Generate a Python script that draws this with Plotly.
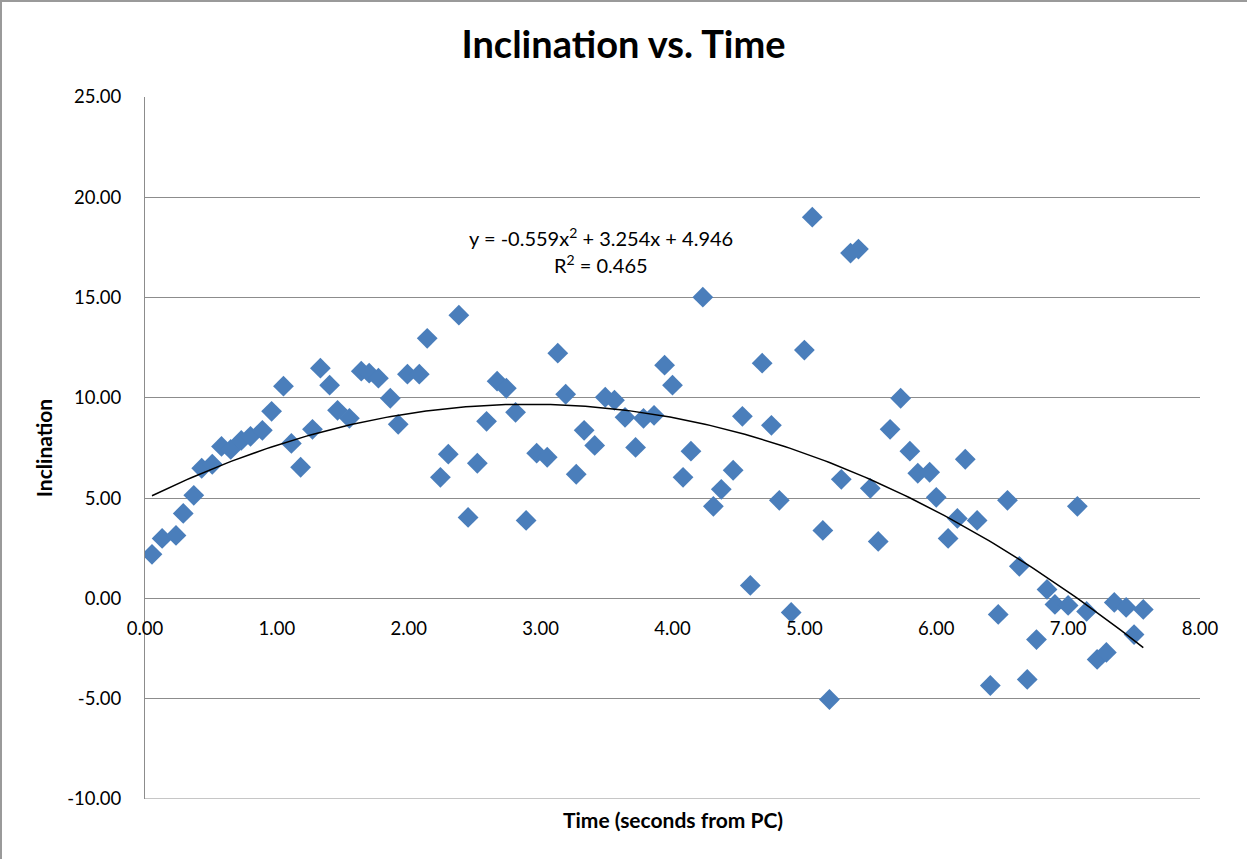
import numpy as np
import plotly.graph_objects as go

time_s = [0.053, 0.13, 0.235, 0.29, 0.37, 0.43, 0.51, 0.58, 0.65, 0.73,
          0.80, 0.89, 0.96, 1.05, 1.11, 1.18, 1.27, 1.33, 1.40, 1.46,
          1.55, 1.64, 1.70, 1.77, 1.86, 1.92, 1.99, 2.08, 2.14, 2.24,
          2.30, 2.38, 2.45, 2.52, 2.59, 2.67, 2.74, 2.81, 2.89, 2.97,
          3.05, 3.13, 3.19, 3.27, 3.33, 3.41, 3.49, 3.56, 3.64, 3.72,
          3.78, 3.86, 3.94, 4.00, 4.08, 4.14, 4.23, 4.31, 4.37, 4.46,
          4.53, 4.59, 4.68, 4.75, 4.81, 4.90, 5.00, 5.06, 5.14, 5.19,
          5.28, 5.35, 5.41, 5.50, 5.56, 5.65, 5.73, 5.80, 5.86, 5.95,
          6.00, 6.09, 6.16, 6.22, 6.31, 6.41, 6.47, 6.54, 6.63, 6.69,
          6.76, 6.84, 6.90, 7.00, 7.07, 7.14, 7.22, 7.29, 7.35, 7.44,
          7.50, 7.57]
inclination = [2.20, 2.99, 3.14, 4.24, 5.14, 6.49, 6.69, 7.58, 7.43, 7.88,
               8.08, 8.38, 9.33, 10.58, 7.73, 6.54, 8.43, 11.48, 10.63, 9.38,
               8.98, 11.33, 11.23, 10.98, 9.98, 8.68, 11.18, 11.18, 12.97, 6.04,
               7.19, 14.12, 4.04, 6.74, 8.83, 10.83, 10.48, 9.28, 3.89, 7.24,
               7.04, 12.23, 10.18, 6.19, 8.38, 7.63, 10.03, 9.88, 9.03, 7.53,
               8.98, 9.13, 11.63, 10.63, 6.04, 7.34, 15.02, 4.59, 5.44, 6.39,
               9.08, 0.65, 11.73, 8.63, 4.89, -0.70, 12.38, 19.01, 3.39, -5.04,
               5.94, 17.22, 17.42, 5.49, 2.84, 8.43, 9.98, 7.34, 6.24, 6.29,
               5.04, 2.99, 3.99, 6.94, 3.89, -4.34, -0.80, 4.89, 1.60, -4.04,
               -2.05, 0.45, -0.30, -0.35, 4.59, -0.65, -3.04, -2.69, -0.20, -0.45,
               -1.80, -0.55]

trend_coeffs = [-0.559, 3.254, 4.946]
r_squared = 0.465
y_ticks = [-10, -5, 0, 5, 10, 15, 20, 25]
x_ticks = [0, 1, 2, 3, 4, 5, 6, 7, 8]

FONT = "Lato, 'Open Sans', sans-serif"
GRID = "#8c8c8c"

tx = np.linspace(min(time_s), max(time_s), 200)
ty = np.polyval(trend_coeffs, tx)

fig = go.Figure()
fig.add_trace(go.Scatter(
    x=time_s, y=inclination, mode="markers",
    marker=dict(symbol="diamond", size=16, color="#4A7EBB", line=dict(width=0)),
    showlegend=False, hoverinfo="x+y"))
fig.add_trace(go.Scatter(
    x=tx, y=ty, mode="lines", line=dict(color="black", width=1.5),
    showlegend=False, hoverinfo="skip"))

ymin, ymax = y_ticks[0], y_ticks[-1]
zero_pos = (0 - ymin) / (ymax - ymin)

fig.update_layout(
    width=1247, height=859,
    margin=dict(l=145, r=47, t=97, b=60),
    paper_bgcolor="white", plot_bgcolor="white",
    font=dict(family=FONT, color="black", size=18.5),
    title=dict(text="<b>Inclination vs. Time</b>", x=0.5, xanchor="center",
               y=1 - 45 / 859, yanchor="middle",
               font=dict(family=FONT, size=38, color="black")),
    xaxis=dict(range=[x_ticks[0], x_ticks[-1]], tickvals=x_ticks,
               ticktext=[f"{v:.2f}" for v in x_ticks],
               anchor="free", position=zero_pos,
               showgrid=False, zeroline=False, showline=False,
               ticks="", tickfont=dict(size=18.5), ticklabelstandoff=17),
    yaxis=dict(range=[ymin, ymax], tickvals=y_ticks,
               ticktext=[f"{v:.2f}" for v in y_ticks],
               showgrid=True, gridcolor=GRID, gridwidth=1,
               zeroline=False, showline=True, linecolor=GRID, linewidth=1,
               ticks="", tickfont=dict(size=18.5), ticklabelstandoff=19,
               title=dict(text="<b>Inclination</b>", font=dict(size=21), standoff=8)),
    shapes=[dict(type="rect", xref="paper", yref="paper",
                 x0=-0.1365, x1=1.3, y0=-0.3, y1=1 + 96 / 702,
                 line=dict(color="#9a9a9a", width=2), layer="below"),
            dict(type="line", xref="paper", yref="y", x0=0, x1=1,
                 y0=ymin, y1=ymin, line=dict(color=GRID, width=1))],
    annotations=[
        dict(text="y = -0.559x<sup>2</sup> + 3.254x + 4.946", xref="paper", yref="paper",
             x=(601 - 145) / 1055, y=(799 - 237) / 702, showarrow=False,
             font=dict(size=20), xanchor="center", yanchor="middle"),
        dict(text=f"R<sup>2</sup> = {r_squared:.3f}", xref="paper", yref="paper",
             x=(601 - 145) / 1055, y=(799 - 264) / 702, showarrow=False,
             font=dict(size=20), xanchor="center", yanchor="middle"),
        dict(text="<b>Time (seconds from PC)</b>", xref="paper", yref="paper",
             x=(673 - 145) / 1055, y=(799 - 820) / 702, showarrow=False,
             font=dict(size=21), xanchor="center", yanchor="middle"),
    ],
)

fig.write_html("out.html", config={"displayModeBar": False},
               post_script="document.body.style.margin='0';")
